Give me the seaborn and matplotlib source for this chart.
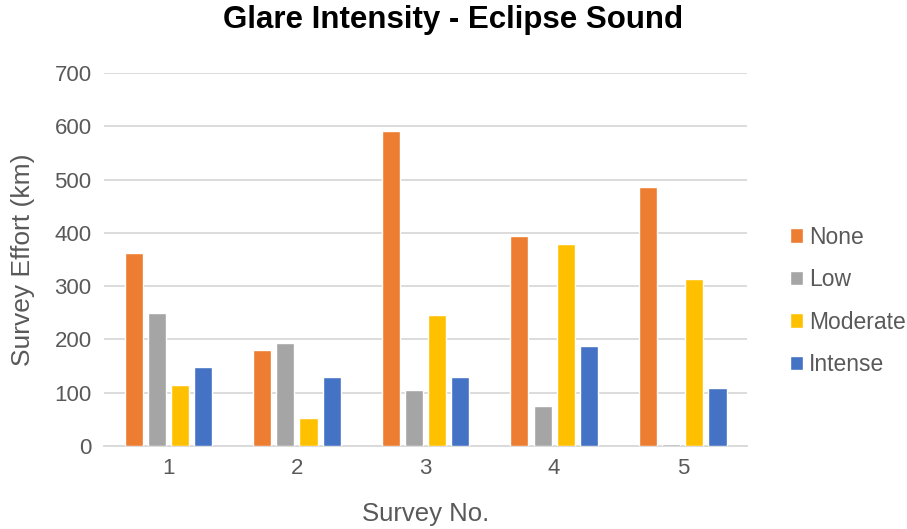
import matplotlib
matplotlib.use("Agg")
import matplotlib.pyplot as plt
import seaborn as sns
import pandas as pd

surveys = ["1", "2", "3", "4", "5"]
levels = ["None", "Low", "Moderate", "Intense"]
none_vals = [362, 180, 592, 394, 486]
low_vals = [249, 193, 105, 75, 4]
moderate_vals = [114, 53, 245, 379, 313]
intense_vals = [149, 129, 129, 188, 108]
colors = ["#ED7D31", "#A5A5A5", "#FFC000", "#4472C4"]

rows = []
for lvl, vals in zip(levels, [none_vals, low_vals, moderate_vals, intense_vals]):
    for s, v in zip(surveys, vals):
        rows.append({"Survey": s, "Glare": lvl, "Effort": v})
df = pd.DataFrame(rows)

sns.set_theme(style="white")
plt.rcParams['font.family'] = ['Liberation Sans', 'DejaVu Sans']
text_c = "#595959"

fig = plt.figure(figsize=(9.07, 5.29), dpi=100)
ax = fig.add_axes([0.1147, 0.157, 0.709, 0.705])
sns.barplot(data=df, x="Survey", y="Effort", hue="Glare", hue_order=levels,
            order=surveys, palette=colors, width=0.72, gap=0.22, ax=ax,
            saturation=1, errorbar=None)

ax.set_ylim(0, 700)
ax.set_yticks(range(0, 701, 100))
ax.set_xlim(-0.5, 4.5)
ax.yaxis.grid(True, color="#D9D9D9", linewidth=1.3)
ax.set_axisbelow(True)
for sp in ["top", "right", "left"]:
    ax.spines[sp].set_visible(False)
ax.spines["bottom"].set_color("#D9D9D9")
ax.spines["bottom"].set_linewidth(1.3)
ax.spines["bottom"].set_zorder(0.5)
ax.tick_params(axis="both", length=0, labelsize=16, labelcolor=text_c, pad=9)
ax.set_xlabel("Survey No.", fontsize=18.5, color=text_c, labelpad=16)
ax.set_ylabel("Survey Effort (km)", fontsize=19, color=text_c, labelpad=14)
fig.suptitle("Glare Intensity - Eclipse Sound", fontsize=22.5, fontweight="bold",
             x=0.5, y=0.99, color="black")

handles, labels = ax.get_legend_handles_labels()
ax.legend(handles, labels, loc="center left", bbox_to_anchor=(1.066, 0.389),
          frameon=False, fontsize=16.5, labelcolor=text_c, handlelength=0.6,
          handleheight=0.6, handletextpad=0.25, labelspacing=0.85,
          borderpad=0, borderaxespad=0)

fig.savefig("out.png", dpi=100)
